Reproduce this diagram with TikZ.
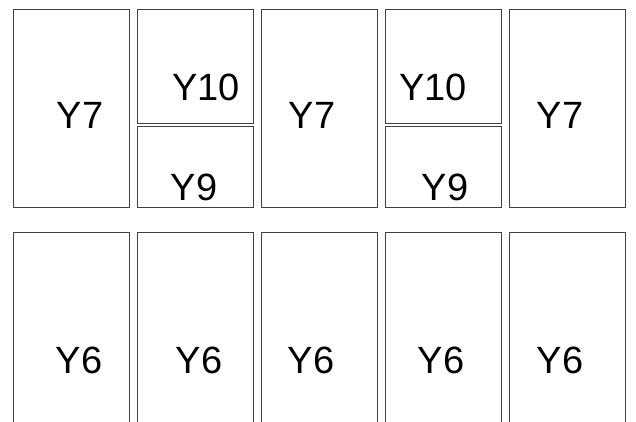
\documentclass[tikz,border=0pt]{standalone}
\usepackage{fontspec}
\setmainfont{Liberation Sans}

\begin{document}
\begin{tikzpicture}[
  x=1pt, y=-1pt,
  cell/.style={draw=black!75, line width=0.9pt, anchor=north west, inner sep=0pt, minimum width=116pt},
  tall/.style={cell, minimum height=198pt},
  upper/.style={cell, minimum height=114pt},
  lower/.style={cell, minimum height=81pt},
  base/.style={cell, minimum height=220pt},
  tag/.style={font=\fontsize{38}{40}\selectfont, inner sep=0pt}
]
  \useasboundingbox (0,0) rectangle (636,421);
  \clip (0,0) rectangle (636,421);

  % top row
  \node[tall] (ta) at (13,9) {};
  \node[upper] (ub) at (137,9) {};
  \node[lower] (lb) at (137,126) {};
  \node[tall] (tc) at (261,9) {};
  \node[upper] (ud) at (385,9) {};
  \node[lower] (ld) at (385,126) {};
  \node[tall] (te) at (509,9) {};

  \node[tag] (ya) at (80,115) {Y7};
  \node[tag] (yb) at (206,87) {Y10};
  \node[tag] (zb) at (194,187) {Y9};
  \node[tag] (yc) at (312,115) {Y7};
  \node[tag] (yd) at (433,87) {Y10};
  \node[tag] (zd) at (445,187) {Y9};
  \node[tag] (ye) at (560,115) {Y7};

  % bottom row
  \node[base] (ba) at (13,232) {};
  \node[base] (bb) at (137,232) {};
  \node[base] (bc) at (261,232) {};
  \node[base] (bd) at (385,232) {};
  \node[base] (be) at (509,232) {};

  \node[tag] (sa) at (79,360) {Y6};
  \node[tag] (sb) at (199,360) {Y6};
  \node[tag] (sc) at (311,360) {Y6};
  \node[tag] (sd) at (441,360) {Y6};
  \node[tag] (se) at (560,360) {Y6};
\end{tikzpicture}
\end{document}
